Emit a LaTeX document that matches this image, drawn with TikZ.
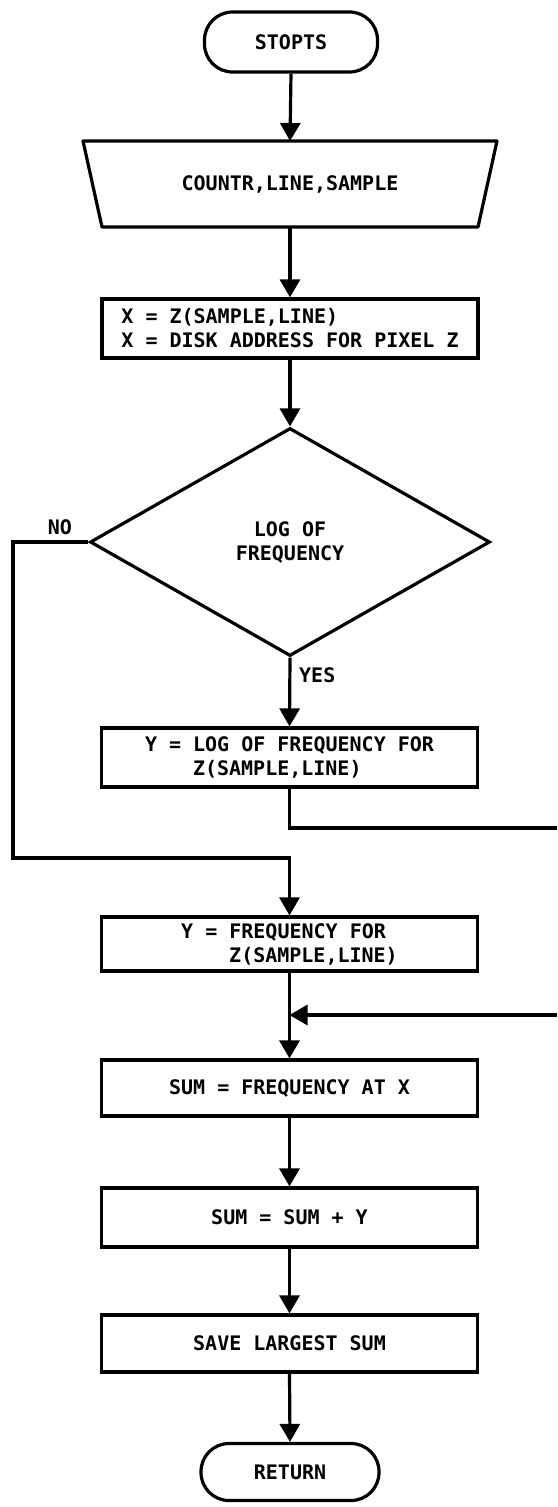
\documentclass[tikz,border=0pt]{standalone}
\usepackage{fontspec}
\newfontfamily\lett{DejaVu Sans Mono}
\usetikzlibrary{arrows.meta,shapes.geometric}
\tikzset{
  flow/.style={line width=3.2pt},
  arr/.style={flow,-{Triangle[length=18pt,width=20pt]}},
  txt/.style={font={\lett\bfseries\fontsize{20}{24}\selectfont}},
  proc/.style={draw,flow,txt,minimum width=376pt,inner sep=0pt,align=center},
  term/.style={draw,flow,txt,rounded corners=28pt,inner sep=0pt},
  decis/.style={draw,flow,txt,diamond,minimum width=400pt,minimum height=228pt,inner sep=0pt,align=center},
  lbl/.style={txt,inner sep=0pt}
}
\begin{document}
\begin{tikzpicture}[x=1pt,y=-1pt]
\useasboundingbox (0,0) rectangle (557,1507);
% nodes
\node[term,minimum width=173pt,minimum height=60pt] (stop) at (291,42) {STOPTS};
\node[txt,minimum width=414pt,minimum height=86pt,inner sep=0pt,outer sep=0pt] (inp) at (290,184) {COUNTR,LINE,SAMPLE};
\draw[flow,line join=round] (inp.north west) -- (inp.north east) -- ([xshift=-19pt]inp.south east) -- ([xshift=19pt]inp.south west) -- cycle;
\node[proc,minimum height=59pt,align=left] (b1) at (290,328.5) {X = Z(SAMPLE,LINE)\\X = DISK ADDRESS FOR PIXEL Z};
\node[decis] (dia) at (290,542) {LOG OF\\FREQUENCY};
\node[proc,minimum height=59pt,align=left] (log) at (289.5,757.5) {Y = LOG OF FREQUENCY FOR\\\hspace*{48pt}Z(SAMPLE,LINE)};
\node[proc,minimum height=54pt,align=left] (freq) at (289.5,944) {Y = FREQUENCY FOR\\\hspace*{48pt}Z(SAMPLE,LINE)};
\node[proc,minimum height=56pt] (sum1) at (289.5,1088) {SUM = FREQUENCY AT X};
\node[proc,minimum height=59pt] (sum2) at (289.5,1217.5) {SUM = SUM + Y};
\node[proc,minimum height=57pt] (save) at (289.5,1343.5) {SAVE LARGEST SUM};
\node[term,minimum width=178pt,minimum height=57pt] (ret) at (290,1472) {RETURN};
% labels
\node[lbl] (no) at (60,527) {NO};
\node[lbl,anchor=west] (yes) at (299,675) {YES};
% helper coordinates
\coordinate (n2) at (13,858);
\coordinate (r1) at (557,828);
\coordinate (r2) at (557,1015);
\coordinate (j) at (289.5,1015);
% connectors
\draw[arr] (stop.south) -- (inp.north);
\draw[arr] (inp.south) -- (b1.north);
\draw[arr] (b1.south) -- (dia.north);
\draw[arr] (dia.south) -- (log.north);
\draw[arr] (dia.west) -| (n2) -| (freq.north);
\draw[flow] (log.south) |- (r1);
\draw[arr] (r2) -- (j);
\draw[arr] (freq.south) -- (sum1.north);
\draw[arr] (sum1.south) -- (sum2.north);
\draw[arr] (sum2.south) -- (save.north);
\draw[arr] (save.south) -- (ret.north);
\end{tikzpicture}
\end{document}
